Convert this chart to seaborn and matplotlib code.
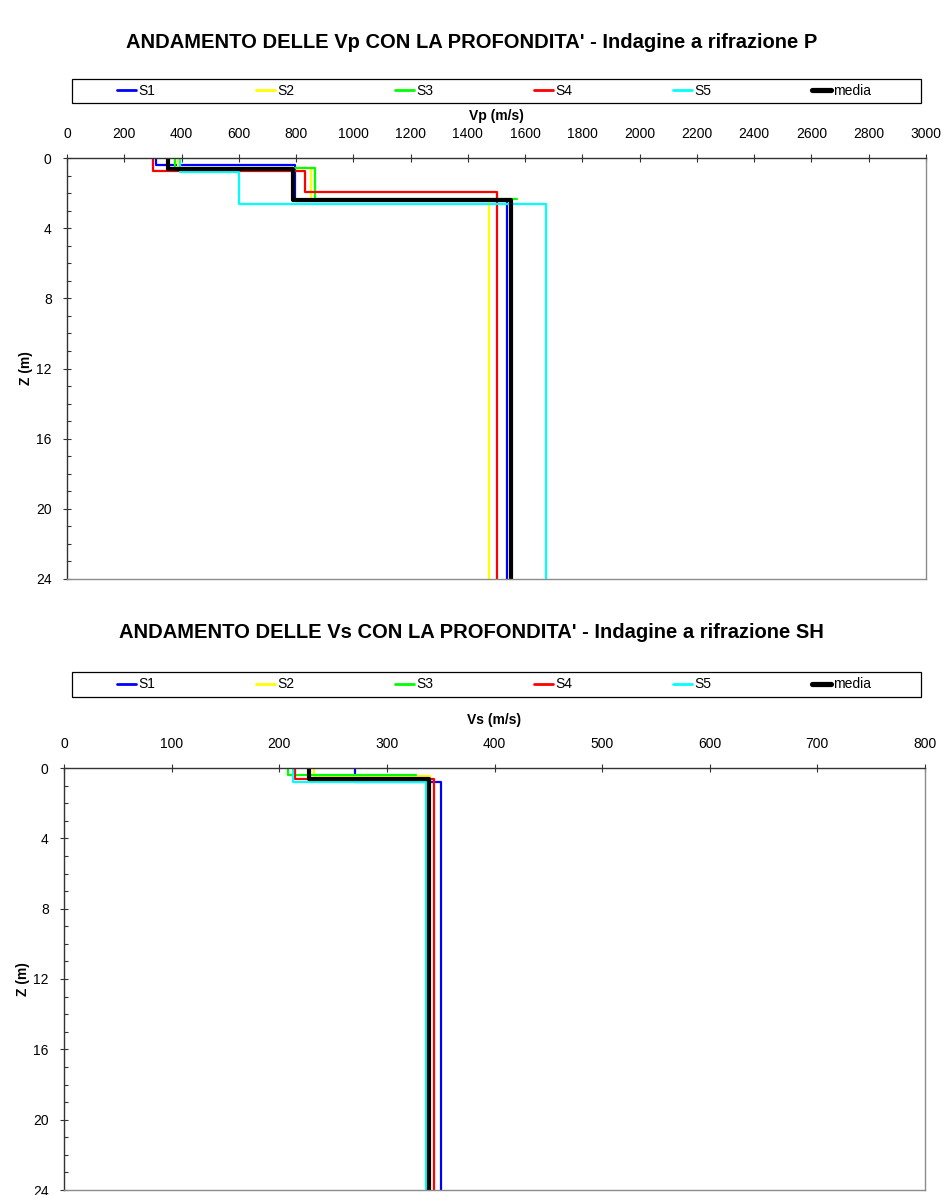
import matplotlib
matplotlib.use("Agg")
import matplotlib.pyplot as plt
from matplotlib.ticker import MultipleLocator
from matplotlib.lines import Line2D
from matplotlib.patches import Rectangle
import seaborn as sns
import pandas as pd

# ---- Vp profiles (velocity of each layer, depth of each layer bottom, m) ----
series_names = ["S1", "S2", "S3", "S4", "S5", "media"]
series_colors = ["#0000FF", "#FFFF00", "#00FF00", "#FF0000", "#00FFFF", "#000000"]

vp_s1 = [310, 795, 1537]
zp_s1 = [0.42, 2.47, 24]
vp_s2 = [388, 851, 1473]
zp_s2 = [0.57, 2.40, 24]
vp_s3 = [376, 866, 1570]
zp_s3 = [0.57, 2.35, None]
vp_s4 = [300, 830, 1500]
zp_s4 = [0.76, 1.92, 24]
vp_s5 = [394, 601, 1673]
zp_s5 = [0.80, 2.60, 24]
vp_media = [354, 789, 1551]
zp_media = [0.63, 2.38, 24]

# ---- Vs profiles ----
vs_s1 = [270, 350]
zs_s1 = [0.82, 24]
vs_s2 = [232, 340]
zs_s2 = [0.45, 24]
vs_s3 = [208, 327]
zs_s3 = [0.38, None]
vs_s4 = [215, 344]
zs_s4 = [0.61, 24]
vs_s5 = [213, 336]
zs_s5 = [0.80, 24]
vs_media = [228, 339.5]
zs_media = [0.60, 24]

vp_ticks = list(range(0, 3001, 200))
vs_ticks = list(range(0, 801, 100))
z_ticks = list(range(0, 25, 4))


def step_profile(name, velocities, bottoms):
    """Turn layer velocities and bottom depths into a stepped line."""
    rows = []
    top = 0.0
    for v, b in zip(velocities, bottoms):
        rows.append((v, top))
        if b is None:
            break
        rows.append((v, b))
        top = b
    return pd.DataFrame({"serie": name, "v": [r[0] for r in rows],
                         "z": [r[1] for r in rows]})


def build(profiles):
    return pd.concat([step_profile(n, v, z) for n, v, z in profiles],
                     ignore_index=True)


df_p = build([("S1", vp_s1, zp_s1), ("S2", vp_s2, zp_s2), ("S3", vp_s3, zp_s3),
              ("S4", vp_s4, zp_s4), ("S5", vp_s5, zp_s5),
              ("media", vp_media, zp_media)])
df_s = build([("S1", vs_s1, zs_s1), ("S2", vs_s2, zs_s2), ("S3", vs_s3, zs_s3),
              ("S4", vs_s4, zs_s4), ("S5", vs_s5, zs_s5),
              ("media", vs_media, zs_media)])

sns.set_theme(style="white")
plt.rcParams["font.family"] = ["Liberation Sans", "DejaVu Sans"]
for key in ("text.color", "axes.labelcolor", "xtick.color", "ytick.color"):
    plt.rcParams[key] = "black"

palette = dict(zip(series_names, series_colors))
widths = {n: 1.6 for n in series_names}
widths["media"] = 3.0

fig = plt.figure(figsize=(9.43, 11.95), dpi=100)
W, H = 943, 1195


def draw_panel(ax, df, xmax, xticks, xlabel, labelpad, title, title_y,
               box_top, box_bot):
    sns.lineplot(data=df, x="v", y="z", hue="serie", size="serie",
                 hue_order=series_names, size_order=series_names,
                 palette=palette, sizes=widths, sort=False, estimator=None,
                 legend=False, ax=ax)
    ax.set_xlim(0, xmax)
    ax.set_ylim(24, 0)
    ax.xaxis.tick_top()
    ax.xaxis.set_label_position("top")
    ax.set_xticks(xticks)
    ax.set_yticks(z_ticks)
    ax.yaxis.set_minor_locator(MultipleLocator(1))
    ax.tick_params(axis="x", which="major", direction="inout", length=6,
                   width=0.8, color="#333333", labelsize=10, pad=9, top=True,
                   bottom=False)
    ax.tick_params(axis="y", which="major", direction="inout", length=6,
                   width=0.8, color="#333333", labelsize=10, pad=8, left=True)
    ax.tick_params(axis="y", which="minor", direction="in", length=3,
                   width=0.8, color="#333333", left=True)
    ax.set_xlabel(xlabel, fontsize=10, fontweight="bold", labelpad=labelpad)
    ax.set_ylabel("Z (m)", fontsize=10, fontweight="bold", labelpad=2.5)
    for side in ("top", "left"):
        ax.spines[side].set_color("#333333")
        ax.spines[side].set_linewidth(1.0)
    for side in ("right", "bottom"):
        ax.spines[side].set_color("#8c8c8c")
        ax.spines[side].set_linewidth(1.0)
    fig.text(0.5, title_y, title, ha="center", va="center", fontsize=14.5,
             fontweight="bold")
    # legend frame spanning the plot width
    fig.patches.append(Rectangle((72 / W, 1 - box_bot / H), (921 - 72) / W,
                                 (box_bot - box_top) / H, transform=fig.transFigure,
                                 facecolor="white", edgecolor="black", lw=0.9))
    handles = [Line2D([0], [0], color=palette[n], lw=widths[n] * 1.25)
               for n in series_names]
    fig.legend(handles, series_names, loc="center left",
               bbox_to_anchor=(114 / W, 1 - box_bot / H, (874 - 114) / W,
                               (box_bot - box_top) / H),
               mode="expand", ncol=6, fontsize=10, frameon=False,
               handlelength=1.4, handletextpad=0.15, borderpad=0.2,
               borderaxespad=0)


ax1 = fig.add_axes([67 / W, 1 - 579 / H, (926 - 67) / W, (579 - 158) / H])
draw_panel(ax1, df_p, 3000, vp_ticks, "Vp (m/s)", 5.0,
           "ANDAMENTO DELLE Vp CON LA PROFONDITA' - Indagine a rifrazione P",
           1 - 43 / H, 79, 103)

ax2 = fig.add_axes([64 / W, 1 - 1190 / H, (925 - 64) / W, (1190 - 768) / H])
draw_panel(ax2, df_s, 800, vs_ticks, "Vs (m/s)", 9.5,
           "ANDAMENTO DELLE Vs CON LA PROFONDITA' - Indagine a rifrazione SH",
           1 - 632 / H, 672, 697)

fig.savefig("out.png", dpi=100, facecolor="white")
